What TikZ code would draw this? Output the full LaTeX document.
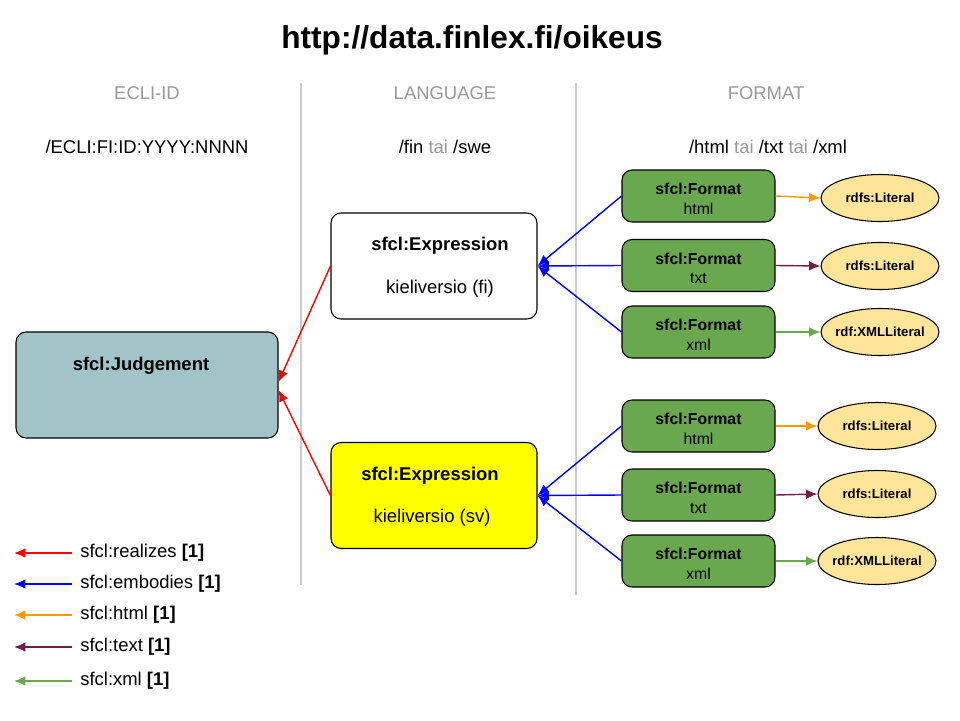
\documentclass[tikz,border=0pt]{standalone}
\usepackage{fontspec}
\setmainfont{Liberation Sans}
\usetikzlibrary{arrows.meta,shapes.geometric}
\definecolor{judgegray}{HTML}{A2C4C9}
\definecolor{formatgreen}{HTML}{6AA84F}
\definecolor{literalyellow}{HTML}{FFE599}
\definecolor{htmlorange}{HTML}{FF9900}
\definecolor{textpurple}{HTML}{741B47}
\definecolor{headgray}{HTML}{999999}
\definecolor{divgray}{HTML}{CCCCCC}
\definecolor{svyellow}{HTML}{FFFF00}
\newcommand{\littext}[1]{\makebox[0pt]{#1}}
\tikzset{
    box/.style={draw, rounded corners=0.2cm, line width=0.6pt, align=center},
    exprbox/.style={box, minimum width=4.12cm, minimum height=2.12cm},
    formatbox/.style={box, fill=formatgreen, minimum width=3.06cm, minimum height=1.04cm,
        font=\fontsize{9}{11.2}\selectfont, text height=21pt, text depth=0pt},
    literal/.style={draw, ellipse, fill=literalyellow, line width=0.6pt, inner sep=0pt,
        minimum width=2.36cm, minimum height=0.94cm, font=\bfseries\fontsize{7.5}{9}\selectfont},
    txt/.style={font=\fontsize{10.5}{12.6}\selectfont, inner sep=0pt},
    bold/.style={txt, font=\bfseries\fontsize{10.5}{12.6}\selectfont},
    head/.style={txt, text=headgray},
    legend/.style={txt, anchor=west},
    divider/.style={divgray, line width=0.6pt},
    link/.style={-{Latex[length=6.5pt, width=5.5pt]}, line width=0.8pt},
    realizes/.style={link, red},
    embodies/.style={link, blue},
    hashtml/.style={link, htmlorange},
    hastext/.style={link, textpurple},
    hasxml/.style={link, formatgreen}
}
\begin{document}
\begin{tikzpicture}[x=0.02cm, y=-0.02cm]
    \useasboundingbox (0,0) rectangle (960,720);
    \node[font=\bfseries\fontsize{18}{22}\selectfont] (title) at (472,40) {http://data.finlex.fi/oikeus};

    \node[head] (h0) at (147,93)  {ECLI-ID};
    \node[head] (h1) at (445,93)  {LANGUAGE};
    \node[head] (h2) at (766,93)  {FORMAT};
    \node[txt]  (p0) at (147,147) {/ECLI:FI:ID:YYYY:NNNN};
    \node[txt]  (p1) at (445,147) {/fin \textcolor{headgray}{tai} /swe};
    \node[txt]  (p2) at (768,147) {/html \textcolor{headgray}{tai} /txt \textcolor{headgray}{tai} /xml};
    \draw[divider] (301,83) -- (301,585);
    \draw[divider] (576,83) -- (576,595);

    \node[box, fill=judgegray, minimum width=5.24cm, minimum height=2.12cm] (judgement) at (147,385) {};
    \node[bold] (judgementlabel) at (141,366) {sfcl:Judgement};

    \node[exprbox, fill=white]    (exprfi) at (434,266)   {};
    \node[exprbox, fill=svyellow] (exprsv) at (434,495.5) {};
    \node[bold] (exprfititle) at (440,246) {sfcl:Expression};
    \node[txt]  (exprfilang)  at (440,289) {kieliversio (fi)};
    \node[bold] (exprsvtitle) at (430,476) {sfcl:Expression};
    \node[txt]  (exprsvlang)  at (432,518) {kieliversio (sv)};

    \node[formatbox] (fihtml) at (698.5,196)   {\textbf{sfcl:Format}\\html};
    \node[formatbox] (fitxt)  at (698.5,265.5) {\textbf{sfcl:Format}\\txt};
    \node[formatbox] (fixml)  at (698.5,332)   {\textbf{sfcl:Format}\\xml};
    \node[formatbox] (svhtml) at (698.5,426)   {\textbf{sfcl:Format}\\html};
    \node[formatbox] (svtxt)  at (698.5,495)   {\textbf{sfcl:Format}\\txt};
    \node[formatbox] (svxml)  at (698.5,561)   {\textbf{sfcl:Format}\\xml};

    \node[literal] (fihtmllit) at (880,198) {\littext{rdfs:Literal}};
    \node[literal] (fitxtlit)  at (880,266) {\littext{rdfs:Literal}};
    \node[literal] (fixmllit)  at (880,332) {\littext{rdf:XMLLiteral}};
    \node[literal] (svhtmllit) at (877,426) {\littext{rdfs:Literal}};
    \node[literal] (svtxtlit)  at (877,494) {\littext{rdfs:Literal}};
    \node[literal] (svxmllit)  at (877,561) {\littext{rdf:XMLLiteral}};

    \draw[realizes] (exprfi.west) -- ([yshift=0.06cm]judgement.east);
    \draw[realizes] (exprsv.west) -- ([yshift=-0.1cm]judgement.east);
    \draw[embodies] (fihtml.west) -- (exprfi.east);
    \draw[embodies] (fitxt.west)  -- (exprfi.east);
    \draw[embodies] (fixml.west)  -- (exprfi.east);
    \draw[embodies] (svhtml.west) -- (exprsv.east);
    \draw[embodies] (svtxt.west)  -- (exprsv.east);
    \draw[embodies] (svxml.west)  -- (exprsv.east);
    \draw[hashtml] (fihtml.east) -- (fihtmllit.west);
    \draw[hastext] (fitxt.east)  -- (fitxtlit.west);
    \draw[hasxml]  (fixml.east)  -- (fixmllit.west);
    \draw[hashtml] (svhtml.east) -- (svhtmllit.west);
    \draw[hastext] (svtxt.east)  -- (svtxtlit.west);
    \draw[hasxml]  (svxml.east)  -- (svxmllit.west);

    \node[legend] (l0) at (80,553) {sfcl:realizes \textbf{[1]}};
    \node[legend] (l1) at (80,584) {sfcl:embodies \textbf{[1]}};
    \node[legend] (l2) at (80,615) {sfcl:html \textbf{[1]}};
    \node[legend] (l3) at (80,647) {sfcl:text \textbf{[1]}};
    \node[legend] (l4) at (80,681) {sfcl:xml \textbf{[1]}};
    \coordinate (e0) at (14,553);
    \coordinate (e1) at (14,584);
    \coordinate (e2) at (14,615);
    \coordinate (e3) at (14,647);
    \coordinate (e4) at (14,681);
    \draw[realizes] (l0.west -| 72,0) -- (e0);
    \draw[embodies] (l1.west -| 72,0) -- (e1);
    \draw[hashtml]  (l2.west -| 72,0) -- (e2);
    \draw[hastext]  (l3.west -| 72,0) -- (e3);
    \draw[hasxml]   (l4.west -| 72,0) -- (e4);
\end{tikzpicture}
\end{document}
